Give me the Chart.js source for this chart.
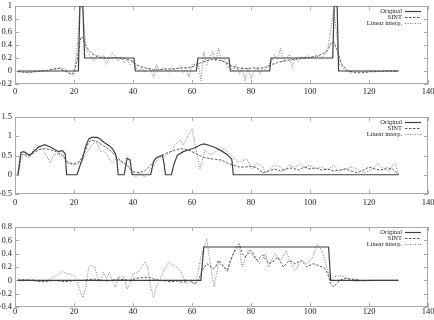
<!DOCTYPE html>
<html><head><meta charset="utf-8">
<script src="https://cdn.jsdelivr.net/npm/chart.js@4.4.0/dist/chart.umd.min.js"></script>
<style>
html,body{margin:0;padding:0;background:#fff;width:434px;height:320px;overflow:hidden}
canvas{position:absolute;left:0}
</style></head><body>
<canvas id="c1" width="434" height="100" style="top:0px"></canvas>
<canvas id="c2" width="434" height="100" style="top:111px"></canvas>
<canvas id="c3" width="434" height="99" style="top:221px"></canvas>
<script>
const seriesNames = ["Original", "SINT", "Linear interp."];
const xTicks = [0,20,40,60,80,100,120,140];
const yTicks1 = [-0.2,0,0.2,0.4,0.6,0.8,1];
const yTicks2 = [-0.5,0,0.5,1,1.5];
const yTicks3 = [-0.4,-0.2,0,0.2,0.4,0.6,0.8];

// ---- panel 1 ----
const orig1 = [[1,0],[21.5,0],[22,1],[23,1],[23.6,0.2],[40.3,0.2],[40.8,0],[61.5,0],[62,0.2],[72.5,0.2],[73,0],[86.3,0],[86.8,0.2],[107.7,0.2],[108.2,1],[109.2,1],[109.7,0],[130,0]];
const sint1 = [[1,-0.01],[3,-0.02],[5,-0.02],[7,-0.01],[9,0],[11,0.01],[13,0.03],[15,0.04],[17,0],[19,-0.05],[20,-0.04],[21,0.15],[22,0.45],[22.5,0.53],[23,0.5],[24,0.4],[25,0.32],[26,0.27],[28,0.22],[30,0.2],[32,0.2],[34,0.21],[36,0.2],[38,0.18],[40,0.15],[41,0.1],[43,0.06],[45,0.04],[47,0.02],[49,0.02],[51,0.03],[53,0.03],[55,0.04],[57,0.05],[59,0.05],[61,0.08],[62,0.1],[63,0.13],[65,0.16],[67,0.18],[69,0.17],[71,0.14],[73,0.09],[75,0.05],[77,0.04],[79,0.04],[81,0.05],[83,0.04],[85,0.06],[87,0.1],[89,0.13],[91,0.15],[93,0.17],[95,0.18],[97,0.2],[99,0.2],[101,0.22],[103,0.24],[105,0.28],[106,0.32],[107,0.42],[108,0.45],[109,0.35],[110,0.2],[111,0.08],[113,0],[115,-0.02],[117,-0.03],[119,-0.02],[121,-0.01],[123,-0.01],[125,0],[127,0],[130,0]];
const lin1 = [[1,0],[3,-0.02],[5,-0.02],[7,-0.01],[9,0],[11,0],[13,0.02],[15,0.05],[17,0.03],[19,-0.05],[20,0],[21,0.3],[22,1],[23,0.95],[24,0.35],[25,0.25],[27,0.15],[28,0.25],[29,0.2],[30,0.25],[31,0.1],[32,0.2],[33,0.28],[34,0.22],[35,0.15],[36,0.22],[37,0.12],[38,0.18],[39,0.1],[40,0.15],[41,0.05],[42,0],[43,0.05],[44,-0.02],[45,0.04],[46,0.02],[47,-0.1],[48,0.1],[49,0],[50,0.05],[51,0.03],[52,-0.02],[53,0.05],[54,0.02],[55,0],[56,0.08],[57,-0.02],[58,0.04],[59,-0.1],[60,0.1],[61,0.1],[62,0.15],[63,-0.15],[64,0.3],[65,0.1],[66,0.2],[67,0.3],[68,0.15],[69,0.35],[70,0.15],[71,0.2],[72,0.05],[73,0.08],[74,0],[75,0.1],[76,-0.05],[77,0.05],[78,-0.15],[79,0.05],[80,-0.12],[81,0],[82,0.05],[83,-0.05],[84,0.05],[85,0],[86,0.1],[87,0.15],[88,0.25],[89,0.18],[90,0.35],[91,0.15],[92,0.2],[93,0.25],[94,0.05],[95,0.2],[96,0.15],[97,0.22],[98,0.18],[99,0.25],[100,0.2],[101,0.22],[102,0.2],[103,0.24],[104,0.2],[105,0.25],[106,0.35],[107,0.6],[108,0.95],[109,0.6],[110,0.1],[111,0.05],[112,0],[114,-0.02],[116,0],[118,-0.01],[120,0],[122,0],[124,-0.01],[126,0],[128,0],[130,0]];

// ---- panel 2 ----
const orig2 = [[1,0],[2,0.58],[3,0.6],[4,0.55],[5,0.5],[6,0.58],[7,0.65],[8,0.72],[10,0.78],[12,0.72],[14,0.63],[15,0.6],[16,0.63],[17,0.55],[17.5,0],[21,0],[23,0.45],[24,0.75],[25,0.93],[26,0.97],[28,0.97],[29,0.92],[30,0.85],[32,0.75],[33,0.68],[34,0.55],[34.5,0.4],[35,0],[37,0],[38,0.43],[39,0.38],[39.7,0],[46,0],[47,0.35],[48,0.45],[50,0.5],[50.5,0.3],[51,0],[53,0],[54,0.3],[55,0.5],[57,0.6],[59,0.65],[61,0.7],[63,0.78],[64,0.8],[66,0.76],[68,0.7],[70,0.62],[72,0.52],[73.5,0.4],[74,0],[130,0]];
const sint2 = [[1,0],[2,0.5],[3,0.55],[4,0.5],[6,0.55],[8,0.65],[10,0.68],[12,0.65],[14,0.6],[16,0.5],[18,0.32],[20,0.28],[22,0.35],[24,0.65],[25,0.85],[26,0.9],[28,0.85],[30,0.75],[32,0.65],[34,0.5],[36,0.35],[38,0.25],[40,0.08],[42,0.05],[44,0.1],[46,0.25],[48,0.45],[50,0.52],[52,0.58],[54,0.63],[56,0.68],[58,0.66],[60,0.6],[62,0.52],[64,0.45],[66,0.42],[68,0.4],[70,0.38],[72,0.3],[74,0.25],[76,0.2],[78,0.2],[80,0.22],[82,0.18],[84,0.05],[86,0.1],[88,0.15],[90,0.1],[92,0.15],[94,0.18],[96,0.12],[98,0.2],[100,0.15],[102,0.18],[104,0.12],[106,0.15],[108,0.1],[110,0.12],[112,0.15],[114,0.1],[116,0.05],[118,0.12],[120,0.2],[122,0.15],[124,0.12],[126,0.18],[128,0.15],[130,0]];
const lin2 = [[1,0],[2,0.4],[3,0.5],[5,0.45],[7,0.77],[9,0.68],[10,0.6],[11,0.45],[12,0.3],[13,0.5],[14,0.55],[15,0.5],[16,0.55],[17,0.4],[18,0.3],[20,0.25],[22,0.3],[23,0.4],[25,0.65],[27,0.85],[28,0.8],[29,0.6],[30,0.62],[31,0.55],[32,0.4],[33,0.3],[34,0.4],[36,0.35],[38,0.25],[40,0.05],[41,-0.05],[42,0.05],[43,0],[44,-0.05],[45,0.05],[47,0.25],[49,0.45],[51,0.5],[53,0.6],[54,0.77],[56,0.9],[57,0.77],[60,1.2],[62.7,0.15],[64.4,0.64],[66,0.52],[68,0.6],[70,0.7],[72,0.6],[74,0.45],[76,0.33],[78.6,0.41],[80.3,0.15],[82,0.3],[84,0.2],[85,0.05],[87,0.2],[88,0.25],[90,0.2],[91,0.1],[93,0.25],[95,0.2],[97,0.3],[98,0.2],[100,0.25],[102,0.15],[104,0.2],[106,0.12],[108,0.25],[110,0.1],[112,0.15],[114,0.2],[116,0.15],[118,0.05],[120,0.1],[122,0.2],[123,0.3],[125,0.15],[127,0.1],[128,0.25],[129,0.28],[130,0]];

// ---- panel 3 ----
const orig3 = [[1,0],[63,0],[64,0.5],[106.3,0.5],[107,0],[130,0]];
const sint3 = [[1,0],[3,0.01],[5,0],[7,-0.01],[9,-0.02],[11,-0.02],[13,0],[15,-0.01],[17,-0.02],[19,-0.01],[21,0],[23,0],[25,0.01],[27,0.02],[29,0],[31,-0.01],[33,0],[35,0.02],[37,0.01],[39,0],[41,0.03],[43,0.04],[45,0.05],[47,0.02],[49,0],[51,-0.01],[53,-0.02],[55,-0.01],[57,-0.03],[59,0],[61,-0.05],[62,-0.02],[63.5,0.15],[65,0.25],[66,0.22],[67,0.17],[68,0.2],[69,0.3],[71,0.2],[72,0.15],[73,0.3],[75,0.5],[76,0.55],[77,0.4],[78,0.35],[80,0.45],[82,0.3],[84,0.38],[86,0.25],[88,0.3],[89,0.35],[91,0.2],[93,0.3],[95,0.25],[97,0.3],[99,0.2],[101,0.25],[103,0.22],[105,0.18],[106,0.1],[107,-0.05],[108,-0.1],[110,0],[112,0.03],[114,0.02],[116,0.01],[118,-0.01],[120,0],[122,0],[124,0],[126,0],[128,0],[130,0]];
const lin3 = [[1,0.02],[3,-0.01],[5,0.02],[7,0],[9,-0.02],[11,0],[13,0.05],[15,0.1],[16,0.13],[18,0.1],[20,0.07],[21,0],[22,-0.15],[23,-0.26],[24,-0.1],[25,0.2],[26,0.23],[27,0.2],[28,0.05],[29,-0.02],[30,0.12],[31,0.02],[32,0.12],[33,0],[34,-0.1],[35,0.05],[37,0.05],[38,-0.13],[39,-0.05],[40,0.1],[42,0.13],[44,0.28],[45,0.2],[46,-0.1],[47,-0.25],[48,-0.1],[50,0.1],[52,0.27],[54,0.22],[56,0.15],[57,0.05],[58,-0.05],[59,-0.02],[61,-0.05],[62,0.1],[63,0.35],[65,0.62],[66,0.3],[67.5,-0.1],[69,0.27],[70.5,0.2],[72,0.13],[74,0.4],[76,0.52],[77,0.2],[79,0.45],[81,0.35],[83,0.25],[85,0.4],[86,0.2],[88,0.4],[90,0.3],[92,0.45],[93,0.3],[95,0.15],[97,0.3],[99,0.25],[101,0.35],[102.5,0.55],[104,0.45],[106,0.15],[107,0],[108,0.05],[110,0.07],[112,0.05],[114,0],[116,-0.02],[118,0],[120,-0.01],[122,0],[124,0],[126,0],[128,0],[130,0]];

const FONT = "'Liberation Serif','DejaVu Serif','Times New Roman',serif";
const styles = [
  {color:'#3f3f3f', width:1.2, dash:[]},
  {color:'#5a5a5a', width:1, dash:[2.5,1.5]},
  {color:'#7a7a7a', width:1, dash:[1,1.5]}
];

const framePlugin = {
  id:'frame',
  beforeDatasetsDraw(chart){
    const {ctx, chartArea:a, scales} = chart;
    ctx.save();
    ctx.strokeStyle = '#a8a8a8';
    ctx.lineWidth = 1;
    ctx.strokeRect(Math.round(a.left)+0.5, Math.round(a.top)+0.5, Math.round(a.right-a.left)-1, Math.round(a.bottom-a.top)-1);
    ctx.beginPath();
    scales.x.ticks.forEach(t=>{
      const px = Math.round(scales.x.getPixelForValue(t.value))+0.5;
      ctx.moveTo(px,a.bottom); ctx.lineTo(px,a.bottom-4);
      ctx.moveTo(px,a.top); ctx.lineTo(px,a.top+4);
    });
    scales.y.ticks.forEach(t=>{
      const py = Math.round(scales.y.getPixelForValue(t.value))+0.5;
      ctx.moveTo(a.left,py); ctx.lineTo(a.left+4,py);
      ctx.moveTo(a.right,py); ctx.lineTo(a.right-4,py);
    });
    ctx.stroke();
    ctx.restore();
  },
  afterDatasetsDraw(chart){
    const {ctx, chartArea:a} = chart;
    ctx.save();
    ctx.font = "6.5px " + FONT;
    ctx.fillStyle = '#222';
    ctx.textAlign = 'right';
    ctx.textBaseline = 'middle';
    chart.data.datasets.forEach((ds,i)=>{
      const y = a.top + 5 + i*6;
      ctx.fillText(ds.label, a.right - 26, y);
      ctx.beginPath();
      ctx.setLineDash(ds.borderDash||[]);
      ctx.strokeStyle = ds.borderColor;
      ctx.lineWidth = ds.borderWidth;
      ctx.moveTo(a.right - 23, Math.round(y)+0.5);
      ctx.lineTo(a.right - 7, Math.round(y)+0.5);
      ctx.stroke();
    });
    ctx.restore();
  }
};

function makeChart(id, seriesList, yMin, yMax, yTicks, axisH, labelPad){
  const datasets = seriesList.map((pts,i)=>({
    label: seriesNames[i],
    data: pts.map(p=>({x:p[0], y:p[1]})),
    borderColor: styles[i].color,
    borderWidth: styles[i].width,
    borderDash: styles[i].dash,
    pointRadius: 0,
    tension: 0,
    fill: false
  }));
  new Chart(document.getElementById(id), {
    type:'line',
    data:{datasets},
    options:{
      animation:false, responsive:false, devicePixelRatio:1,
      layout:{padding:{top:6,left:0,right:6,bottom:0}},
      plugins:{legend:{display:false}, tooltip:{enabled:false}},
      scales:{
        x:{type:'linear', min:0, max:140,
          grid:{display:false, drawTicks:false}, border:{display:false},
          afterBuildTicks:s=>{ s.ticks = xTicks.map(v=>({value:v})); },
          afterFit:s=>{ s.height = axisH; s.paddingLeft = 0; s.paddingRight = 0; },
          ticks:{font:{family:FONT, size:8.5}, color:'#222', padding:labelPad, maxRotation:0, autoSkip:false, callback:v=>String(v)}
        },
        y:{type:'linear', min:yMin, max:yMax,
          grid:{display:false, drawTicks:false}, border:{display:false},
          afterBuildTicks:s=>{ s.ticks = yTicks.map(v=>({value:v})); },
          afterFit:s=>{ s.width = 15; s.paddingTop = 0; s.paddingBottom = 0; },
          ticks:{font:{family:FONT, size:8.5}, color:'#222', padding:3, autoSkip:false, callback:v=>String(v)}
        }
      }
    },
    plugins:[framePlugin]
  });
}

makeChart('c1', [orig1, sint1, lin1], -0.2, 1, yTicks1, 16, 3);
makeChart('c2', [orig2, sint2, lin2], -0.5, 1.5, yTicks2, 17, 4);
makeChart('c3', [orig3, sint3, lin3], -0.4, 0.8, yTicks3, 13, 0);
</script>
</body></html>
